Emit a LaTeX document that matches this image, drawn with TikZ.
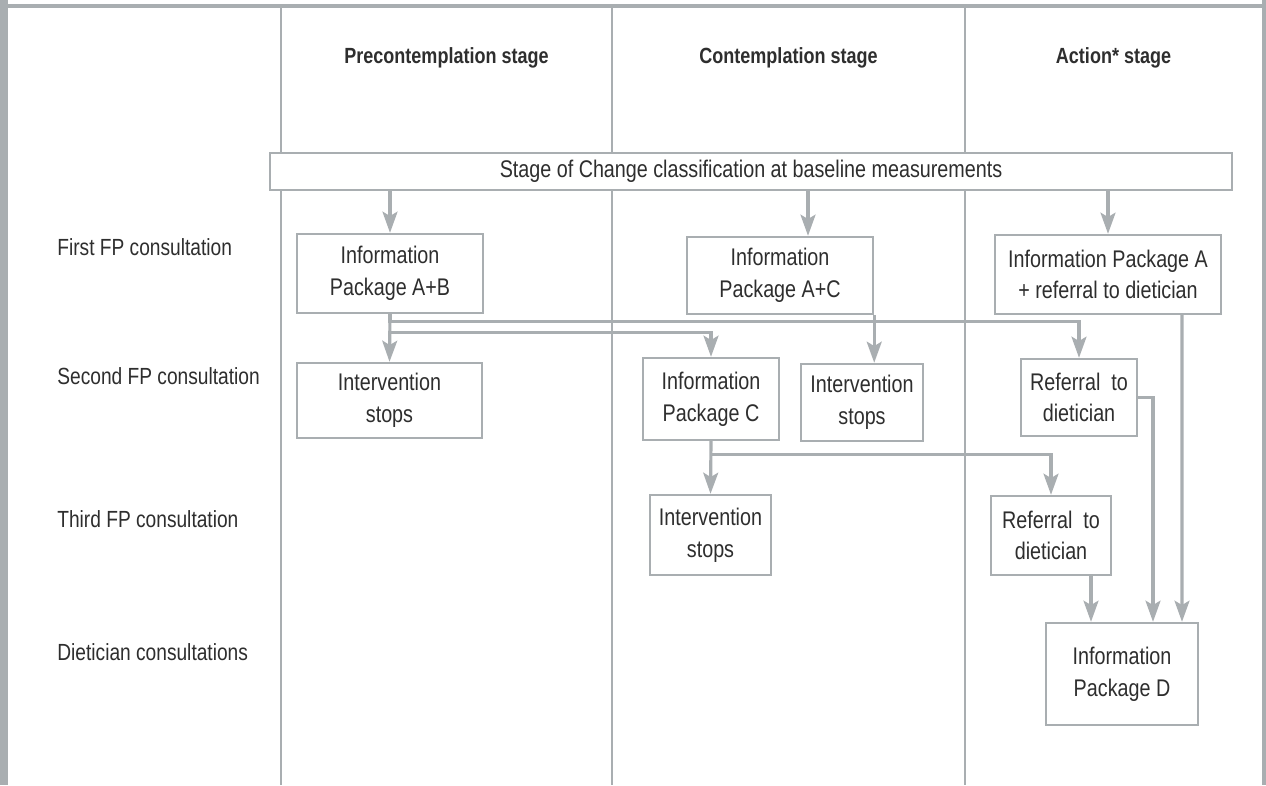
\documentclass[tikz,border=0pt]{standalone}
\usepackage{fontspec}
\setmainfont[FakeStretch=0.82]{Liberation Sans}
\usetikzlibrary{arrows.meta}
\definecolor{rulegray}{HTML}{A9AEB1}
\definecolor{inkgray}{HTML}{2E2E2E}
\begin{document}
\begin{tikzpicture}[x=0.02cm,y=-0.02cm,
   box/.style={draw=rulegray,line width=1.4pt,fill=white,inner sep=0pt,align=center,
               font=\fontsize{13.7}{18}\selectfont,text=inkgray},
   arr/.style={draw=rulegray,line width=1.8pt,-{Stealth[length=12pt,width=8.5pt,inset=2.5pt]}},
   lab/.style={font=\fontsize{13.3}{18}\selectfont,text=inkgray,anchor=west,inner sep=0pt},
   head/.style={font=\fontsize{12.5}{15}\selectfont\bfseries,text=inkgray}]
   \useasboundingbox (0,0) rectangle (1266,785);
   \fill[white] (0,0) rectangle (1266,785);
   \fill[rulegray] (0,0) rectangle (8,785);
   \fill[rulegray] (8,4) rectangle (1266,7.5);
   \fill[rulegray] (1262,0) rectangle (1266,785);
   \foreach \x in {281,612,965} \draw[rulegray,line width=1.6pt] (\x,7) -- (\x,785);
   \node[head] (hpre) at (446.5,58) {Precontemplation stage};
   \node[head] (hcon) at (788.5,58) {Contemplation stage};
   \node[head] (hact) at (1113.5,58) {Action* stage};
   \node[lab] (rfirst) at (57,247) {First FP consultation};
   \node[lab] (rsecond) at (57,376) {Second FP consultation};
   \node[lab] (rthird) at (57,519) {Third FP consultation};
   \node[lab] (rdiet) at (57,652) {Dietician consultations};
   \node[box,minimum width=19.24cm,minimum height=0.74cm] (base) at (751,171.5) {Stage of Change classification at baseline measurements};
   \node[box,minimum width=3.72cm,minimum height=1.58cm] (ipab) at (390,273.5) {Information\\Package A+B};
   \node[box,minimum width=3.72cm,minimum height=1.54cm] (ipac) at (780,275.5) {Information\\Package A+C};
   \node[box,minimum width=4.52cm,minimum height=1.58cm] (ipa) at (1108,274.5) {Information Package A\\+ referral to dietician};
   \node[box,minimum width=3.70cm,minimum height=1.50cm] (stopa) at (389.5,400.5) {Intervention\\stops};
   \node[box,minimum width=2.72cm,minimum height=1.64cm] (ipc) at (711,399) {Information\\Package C};
   \node[box,minimum width=2.44cm,minimum height=1.54cm] (stopb) at (862,402.5) {Intervention\\stops};
   \node[box,minimum width=2.32cm,minimum height=1.54cm] (refb) at (1079,397.5) {Referral\ \ to\\dietician};
   \node[box,minimum width=2.42cm,minimum height=1.60cm] (stopc) at (710.5,535) {Intervention\\stops};
   \node[box,minimum width=2.40cm,minimum height=1.58cm] (refc) at (1051,535.5) {Referral\ \ to\\dietician};
   \node[box,minimum width=3.04cm,minimum height=2.04cm] (ipd) at (1122,674) {Information\\Package D};
   \draw[arr] (ipab.north |- base.south) -- (ipab.north);
   \draw[arr] (808,190) coordinate (bc) -- (bc |- ipac.north);
   \draw[arr] (ipa.north |- base.south) -- (ipa.north);
   \draw[arr] (ipab.south) -- (stopa.north);
   \draw[arr] (ipab.south) -- ++(0,7) -| (refb.north);
   \draw[arr] (ipab.south) ++(0,18) -| (ipc.north);
   \draw[arr] (ipac.south east) -- (ipac.south east |- stopb.north);
   \draw[arr] (ipc.south) -- (stopc.north);
   \draw[arr] (ipc.south) ++(0,13) -| (refc.north);
   \draw[arr] (refb.east) -| ([xshift=0.62cm]ipd.north);
   \draw[arr] ([xshift=1.48cm]ipa.south) -- ([xshift=1.2cm]ipd.north);
   \draw[arr] ([xshift=0.8cm]refc.south) -- ([xshift=0.8cm]refc.south |- ipd.north);
\end{tikzpicture}
\end{document}
